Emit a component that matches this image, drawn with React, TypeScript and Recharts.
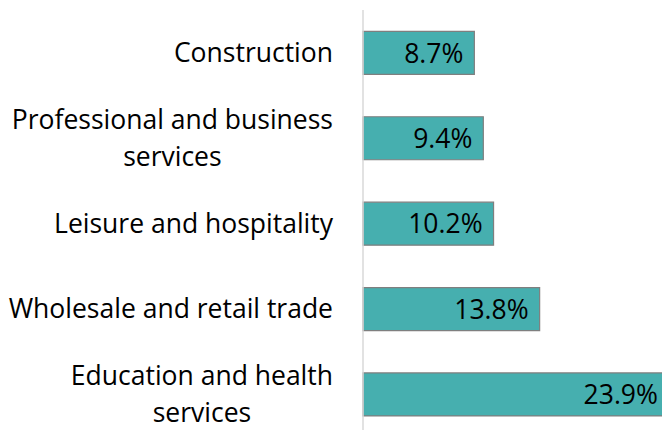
import React from "react";
import { BarChart, Bar, XAxis, YAxis, LabelList } from "recharts";

const categories = [
  "Construction",
  "Professional and business services",
  "Leisure and hospitality",
  "Wholesale and retail trade",
  "Education and health services",
];
const shares = [8.7, 9.4, 10.2, 13.8, 23.9];

const data = categories.map((name, i) => ({ name, value: shares[i] }));

const FONT = "'Open Sans', sans-serif";
const FONT_SIZE = 26.5;
const LINE_HEIGHT = 36.7;
const MAX_CHARS = 26;

// greedy word wrap, Excel-style category labels
const wrap = (label: string) => {
  const lines: string[] = [];
  let cur = "";
  label.split(" ").forEach((w) => {
    const next = cur ? `${cur} ${w}` : w;
    if (next.length > MAX_CHARS && cur) {
      lines.push(cur);
      cur = w;
    } else {
      cur = next;
    }
  });
  if (cur) lines.push(cur);
  return lines;
};

let ctx: CanvasRenderingContext2D | null = null;
const measure = (s: string) => {
  if (!ctx) ctx = document.createElement("canvas").getContext("2d");
  if (!ctx) return s.length * FONT_SIZE * 0.5;
  ctx.font = `${FONT_SIZE}px ${FONT}`;
  return ctx.measureText(s).width;
};

const CategoryTick = (props: any) => {
  const { x, y, payload } = props;
  const lines = wrap(payload.value);
  const blockWidth = Math.max(...lines.map(measure));
  const cx = x - blockWidth / 2;
  const base = y + FONT_SIZE * 0.357 - ((lines.length - 1) / 2) * LINE_HEIGHT;
  return (
    <text
      x={cx}
      y={base}
      textAnchor="middle"
      fill="#000"
      style={{ fontSize: FONT_SIZE, fontFamily: FONT }}
    >
      {lines.map((l, i) => (
        <tspan key={i} x={cx} dy={i === 0 ? 0 : LINE_HEIGHT}>
          {l}
        </tspan>
      ))}
    </text>
  );
};

const ValueLabel = (props: any) => {
  const { x, y, width, height, value } = props;
  return (
    <text
      x={x + width - 11}
      y={y + height / 2 + FONT_SIZE * 0.37}
      textAnchor="end"
      fill="#000"
      style={{ fontSize: FONT_SIZE, fontFamily: FONT }}
    >
      {`${value.toFixed(1)}%`}
    </text>
  );
};

const App = () => {
  return (
    <div
      style={{
        position: "fixed",
        left: 0,
        top: 0,
        width: 662,
        height: 430,
        overflow: "hidden",
        background: "#fff",
      }}
    >
      <BarChart
        width={683}
        height={440}
        data={data}
        layout="vertical"
        margin={{ top: 10, right: 0, bottom: 3, left: 0 }}
        barCategoryGap="25%"
      >
        <XAxis type="number" domain={[0, 25]} hide />
        <YAxis
          type="category"
          dataKey="name"
          width={363}
          tickLine={false}
          tickSize={0}
          tickMargin={30}
          axisLine={{ stroke: "#d9d9d9", strokeWidth: 1.5 }}
          tick={<CategoryTick />}
          interval={0}
        />
        <Bar
          dataKey="value"
          fill="#46afaf"
          stroke="#7f7f7f"
          strokeWidth={1.2}
          isAnimationActive={false}
        >
          <LabelList dataKey="value" content={<ValueLabel />} />
        </Bar>
      </BarChart>
    </div>
  );
};

export default App;
